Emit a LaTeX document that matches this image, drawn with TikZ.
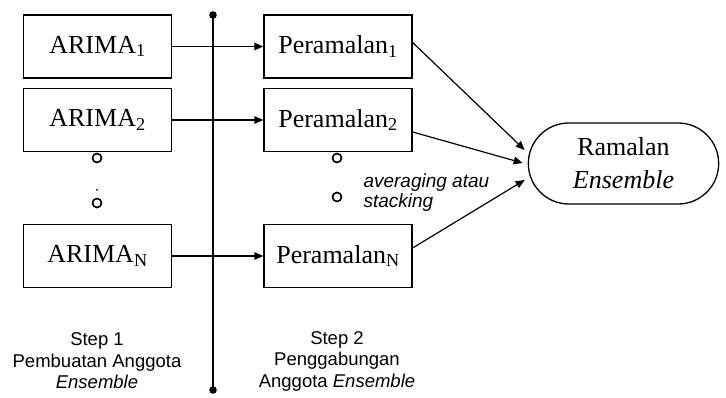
\documentclass[tikz,border=0pt]{standalone}
\usepackage{fontspec}
\setmainfont{Liberation Serif}
\setsansfont{Liberation Sans}
\usetikzlibrary{arrows.meta,shapes.misc}

\begin{document}
\begin{tikzpicture}[x=1pt,y=-1pt,>={Triangle[length=9pt,width=7.5pt]},
    box/.style={draw,line width=1.3pt,minimum width=148pt,minimum height=63pt,
      inner sep=0pt,font=\fontsize{26}{30}\selectfont},
    ring/.style={draw,circle,line width=1.7pt,minimum size=9pt,inner sep=0pt},
    note/.style={font=\sffamily\fontsize{18.5}{21.5}\selectfont,align=center},
    line/.style={line width=1.2pt}]
  \useasboundingbox (0,0) rectangle (726,398);
  % members and forecasts
  \node[box] (a1) at (97.5,46.5) {ARIMA\textsubscript{1}};
  \node[box] (a2) at (97.5,120) {ARIMA\textsubscript{2}};
  \node[box] (aN) at (97.5,256) {ARIMA\textsubscript{N}};
  \node[box] (p1) at (338,46.5) {Peramalan\textsubscript{1}};
  \node[box] (p2) at (338,120) {Peramalan\textsubscript{2}};
  \node[box] (pN) at (338,256) {Peramalan\textsubscript{N}};
  \node[draw,rounded rectangle,line width=1.3pt,minimum width=197pt,minimum height=81pt,
    align=center,font=\fontsize{26}{33}\selectfont] (ens) at (623.5,163.5)
    {Ramalan\\\textit{Ensemble}};
  % dots between boxes
  \node[ring] (ra1) at (97,158) {};
  \node[ring] (ra2) at (97,203) {};
  \fill (97,190) circle (1);
  \node[ring] (rp1) at (337,158) {};
  \node[ring] (rp2) at (337,197) {};
  % divider
  \coordinate (top) at (213,15);
  \coordinate (bot) at (213,390);
  \draw[line] (top) -- (bot);
  \fill (top) circle (3.8);
  \fill (bot) circle (3.8);
  % arrows
  \draw[line,->] (a1) -- (p1);
  \draw[line,->] (a2) -- (p2);
  \draw[line,->] (aN) -- (pN);
  \draw[line,->] ([yshift=4pt]p1.east) -- ([xshift=-3pt,yshift=13.5pt]ens.west);
  \draw[line,->] ([yshift=-12pt]p2.east) -- ([xshift=-5pt,yshift=0.5pt]ens.west);
  \draw[line,->] ([yshift=8pt]pN.east) -- ([xshift=-3pt,yshift=-16.5pt]ens.west);
  % labels
  \node[note,anchor=west,align=left,font=\sffamily\itshape\fontsize{19}{20}\selectfont]
    (avg) at (360,193) {averaging atau\\stacking};
  \node[note] (step1) at (97,361) {Step 1\\Pembuatan Anggota\\\textit{Ensemble}};
  \node[note] (step2) at (337,361) {Step 2\\Penggabungan\\Anggota \textit{Ensemble}};
\end{tikzpicture}
\end{document}
